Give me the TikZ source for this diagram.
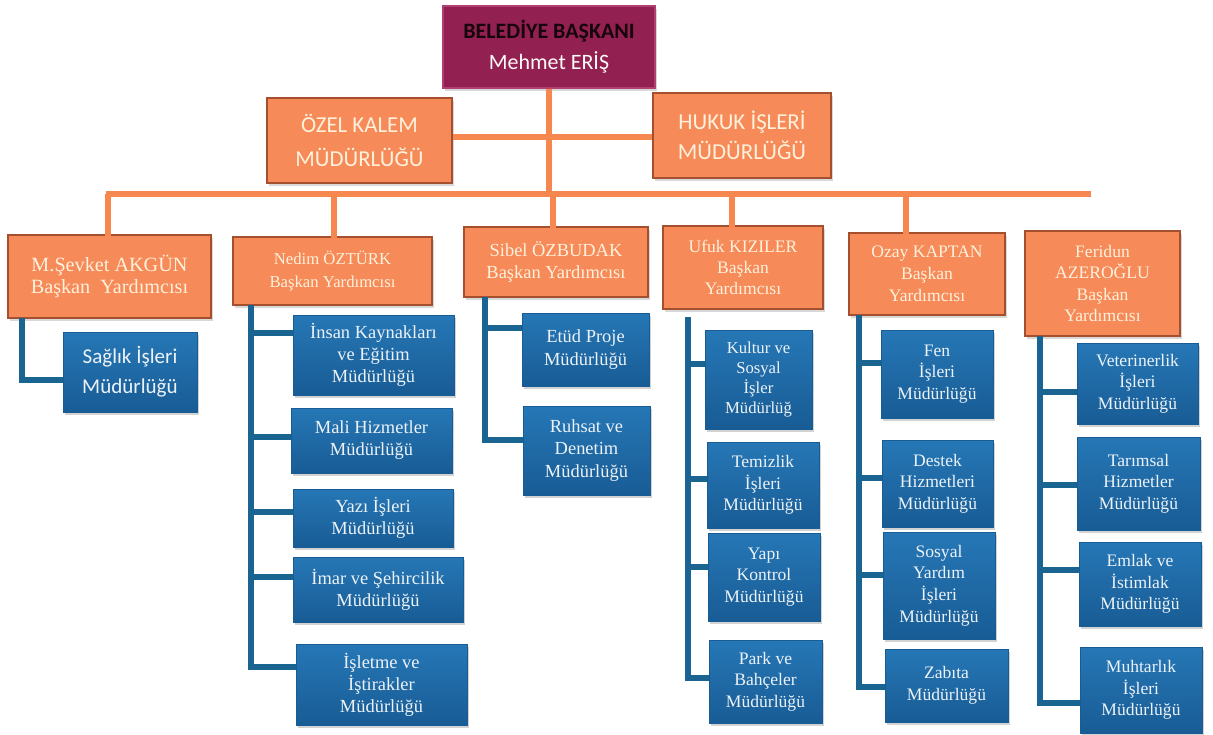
\documentclass[tikz,border=0pt]{standalone}
\usepackage{fontspec}
\setmainfont{Liberation Serif}
\newfontfamily\carlito{Carlito}
\usetikzlibrary{shadows}
\definecolor{org}{HTML}{F68A58}
\definecolor{orgdraw}{HTML}{A4502E}
\definecolor{orgline}{HTML}{F5874F}
\definecolor{mar}{HTML}{922050}
\definecolor{mardraw}{HTML}{B04070}
\definecolor{bluetop}{HTML}{2677B6}
\definecolor{bluebot}{HTML}{185C95}
\definecolor{blueline}{HTML}{1A6492}
\definecolor{cream}{HTML}{FFF1DC}
\definecolor{bwhite}{HTML}{ECF2F7}
\begin{document}
\begin{tikzpicture}[x=0.02cm,y=-0.02cm,
  sz/.style 2 args={minimum width=#1*0.02cm, minimum height=#2*0.02cm},
  topbox/.style={draw=mardraw, line width=0.8pt, fill=mar, text=white!90!pink, align=center, inner sep=1pt,
    drop shadow={opacity=0.3, shadow xshift=1pt, shadow yshift=-1.5pt}},
  obox/.style={draw=orgdraw, line width=1.1pt, fill=org, text=cream, align=center, inner sep=1pt,
    drop shadow={opacity=0.3, shadow xshift=1pt, shadow yshift=-1.5pt}},
  bbox/.style={top color=bluetop, bottom color=bluebot, draw=bluebot, line width=0.4pt, text=bwhite, align=center, inner sep=1pt,
    font=\fontsize{10}{12.3}\selectfont,
    drop shadow={opacity=0.35, shadow xshift=1pt, shadow yshift=-1.5pt}},
  oline/.style={draw=orgline, line width=3pt},
  bline/.style={draw=blueline, line width=3.4pt}
]
\fill[white] (0,0) rectangle (1213,734);
\useasboundingbox (0,0) rectangle (1213,734);

% ---------- orange connectors ----------
\coordinate (busL) at (106,194);
\coordinate (busR) at (1091,194);
\coordinate (dAkgun) at (108,236);
\coordinate (dNedim) at (334,238);
\coordinate (dSibel) at (553,228);
\coordinate (dUfuk) at (732,227);
\coordinate (dOzay) at (906,234);

% ---------- top level ----------
\node[topbox, sz={212}{82}, font=\carlito\fontsize{12.5}{17.5}\selectfont] (top) at (549,47)
  {{\bfseries\color{black!85!mar}BELEDİYE BAŞKANI}\\Mehmet ERİŞ};
\draw[oline] (top.south) -- (top.south |- busL);
\draw[oline] (busL) -- (busR);
\node[obox, sz={185}{85}, font=\carlito\fontsize{13}{19}\selectfont] (ozel) at (359.5,140.5) {ÖZEL KALEM\\MÜDÜRLÜĞÜ};
\node[obox, sz={178}{85}, font=\carlito\fontsize{13}{17}\selectfont] (hukuk) at (742,135.5) {HUKUK İŞLERİ\\MÜDÜRLÜĞÜ};
\draw[oline] (ozel.east |- 0,137) -- (hukuk.west |- 0,137);

% ---------- deputies ----------
\node[obox, sz={203}{83}, font=\fontsize{11.5}{12.5}\selectfont] (akgun) at (109.5,276.5) {M.Şevket AKGÜN\\Başkan\ \ Yardımcısı};
\node[obox, sz={199}{68}, font=\fontsize{9.5}{13}\selectfont] (nedim) at (332.5,271) {Nedim ÖZTÜRK\\Başkan Yardımcısı};
\node[obox, sz={184}{70}, font=\fontsize{10.5}{12.5}\selectfont] (sibel) at (556,262) {Sibel ÖZBUDAK\\Başkan Yardımcısı};
\node[obox, sz={160}{83}, font=\fontsize{10}{12}\selectfont] (ufuk) at (743,267.5) {Ufuk KIZILER\\Başkan\\Yardımcısı};
\node[obox, sz={156}{82}, font=\fontsize{10}{12.5}\selectfont] (ozay) at (927,274) {Ozay KAPTAN\\Başkan\\Yardımcısı};
\node[obox, sz={155}{105}, font=\fontsize{10}{12}\selectfont] (feridun) at (1102.5,283.5) {Feridun\\AZEROĞLU\\Başkan\\Yardımcısı};

\draw[oline] (dAkgun |- busL) -- (dAkgun);
\draw[oline] (dNedim |- busL) -- (dNedim);
\draw[oline] (dSibel |- busL) -- (dSibel);
\draw[oline] (dUfuk |- busL) -- (dUfuk);
\draw[oline] (dOzay |- busL) -- (dOzay);

% ---------- AKGÜN ----------
\node[bbox, sz={134}{80}, font=\carlito\fontsize{12}{17}\selectfont] (saglik) at (130,372) {Sağlık İşleri\\Müdürlüğü};
\coordinate (tA) at (22,318);
\draw[bline] (tA) |- (saglik.west |- 0,380);

% ---------- NEDİM ----------
\node[bbox, sz={161}{80}, font=\fontsize{10.5}{12.5}\selectfont] (insan) at (373.5,355) {İnsan Kaynakları\\ve Eğitim\\Müdürlüğü};
\node[bbox, sz={161}{65}, font=\fontsize{10.5}{12.5}\selectfont] (mali) at (371.5,440.5) {Mali Hizmetler\\Müdürlüğü};
\node[bbox, sz={160}{58}, font=\fontsize{10.5}{12.5}\selectfont] (yazi) at (373,518) {Yazı İşleri\\Müdürlüğü};
\node[bbox, sz={170}{65}, font=\fontsize{10.5}{12.5}\selectfont] (imar) at (378,589.5) {İmar ve Şehircilik\\Müdürlüğü};
\node[bbox, sz={171}{81}, font=\fontsize{10.5}{12.5}\selectfont] (isletme) at (381.5,684.5) {İşletme ve\\İştirakler\\Müdürlüğü};
\coordinate (tN) at (251,305);
\draw[bline] (tN) |- (isletme.west |- 0,667);
\draw[bline] (tN |- 0,333) -- (insan.west |- 0,333);
\draw[bline] (tN |- 0,437) -- (mali.west |- 0,437);
\draw[bline] (tN |- 0,512) -- (yazi.west |- 0,512);
\draw[bline] (tN |- 0,577) -- (imar.west |- 0,577);

% ---------- SİBEL ----------
\node[bbox, sz={127}{73}, font=\fontsize{10.5}{13}\selectfont] (etud) at (585.5,349.5) {Etüd Proje\\Müdürlüğü};
\node[bbox, sz={127}{89}, font=\fontsize{10.5}{13}\selectfont] (ruhsat) at (586.5,450.5) {Ruhsat ve\\Denetim\\Müdürlüğü};
\coordinate (tS) at (485,297);
\draw[bline] (tS) |- (ruhsat.west |- 0,440);
\draw[bline] (tS |- 0,328) -- (etud.west |- 0,328);

% ---------- UFUK ----------
\node[bbox, sz={107}{99}, font=\fontsize{9.5}{11.3}\selectfont] (kultur) at (758.5,379.5) {Kultur ve\\Sosyal\\İşler\\Müdürlüğ};
\node[bbox, sz={112}{86}] (temizlik) at (763,485) {Temizlik\\İşleri\\Müdürlüğü};
\node[bbox, sz={112}{88}] (yapi) at (764,577) {Yapı\\Kontrol\\Müdürlüğü};
\node[bbox, sz={113}{83}] (park) at (765.5,681.5) {Park ve\\Bahçeler\\Müdürlüğü};
\coordinate (tU) at (688,317);
\draw[bline] (tU) |- (park.west |- 0,678);
\draw[bline] (tU |- 0,364) -- (kultur.west |- 0,364);
\draw[bline] (tU |- 0,479) -- (temizlik.west |- 0,479);
\draw[bline] (tU |- 0,567) -- (yapi.west |- 0,567);

% ---------- OZAY ----------
\node[bbox, sz={112}{88}] (fen) at (937,374) {Fen\\İşleri\\Müdürlüğü};
\node[bbox, sz={111}{87}] (destek) at (937.5,483.5) {Destek\\Hizmetleri\\Müdürlüğü};
\node[bbox, sz={112}{107}] (sosyal) at (939,585.5) {Sosyal\\Yardım\\İşleri\\Müdürlüğü};
\node[bbox, sz={123}{73}] (zabita) at (946.5,685.5) {Zabıta\\Müdürlüğü};
\coordinate (tO) at (859,315);
\draw[bline] (tO) |- (zabita.west |- 0,687);
\draw[bline] (tO |- 0,363) -- (fen.west |- 0,363);
\draw[bline] (tO |- 0,478) -- (destek.west |- 0,478);
\draw[bline] (tO |- 0,575) -- (sosyal.west |- 0,575);

% ---------- FERİDUN ----------
\node[bbox, sz={121}{81}] (vet) at (1137.5,383.5) {Veterinerlik\\İşleri\\Müdürlüğü};
\node[bbox, sz={123}{93}] (tarim) at (1138.5,483.5) {Tarımsal\\Hizmetler\\Müdürlüğü};
\node[bbox, sz={122}{84}] (emlak) at (1140,584) {Emlak ve\\İstimlak\\Müdürlüğü};
\node[bbox, sz={122}{86}] (muhtar) at (1141,690) {Muhtarlık\\İşleri\\Müdürlüğü};
\coordinate (tF) at (1040,336);
\draw[bline] (tF) |- (muhtar.west |- 0,703);
\draw[bline] (tF |- 0,392) -- (vet.west |- 0,392);
\draw[bline] (tF |- 0,485) -- (tarim.west |- 0,485);
\draw[bline] (tF |- 0,570) -- (emlak.west |- 0,570);
\end{tikzpicture}
\end{document}
